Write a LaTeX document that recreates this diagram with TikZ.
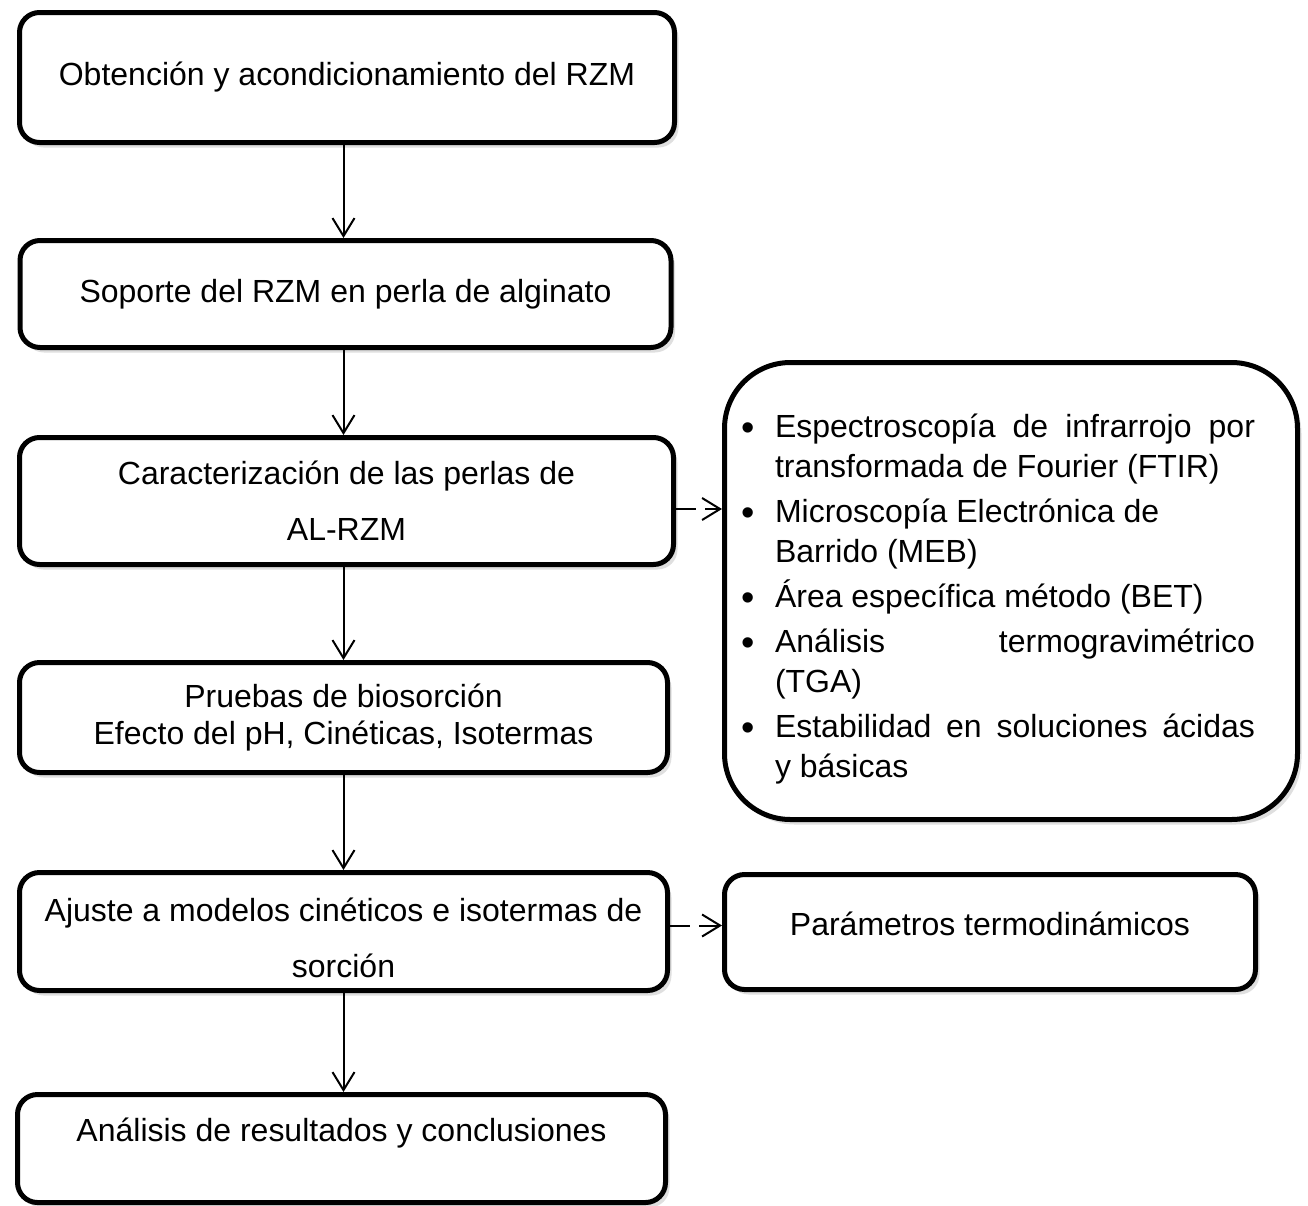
\documentclass[tikz,border=0pt]{standalone}
\usepackage{fontspec}
\usepackage{enumitem}
\setmainfont{Liberation Sans}
\usetikzlibrary{arrows.meta,shadows}

\begin{document}
\begin{tikzpicture}[x=0.5pt,y=-0.5pt]

		\tikzstyle{process} = [rectangle, draw, line width=2.5pt, fill=white, align=center, rounded corners=10pt, inner sep=2pt, font=\fontsize{16pt}{18.4pt}\selectfont, drop shadow={opacity=0.25, shadow xshift=2pt, shadow yshift=-2.5pt}]
		
		\tikzstyle{links} = [-{Straight Barb[length=9pt,width=11pt]}, line width=1pt]
		
		\tikzstyle{dashlinks} = [links, dash pattern=on 10pt off 4.5pt]
		
		\useasboundingbox (0,0) rectangle (1308,1206);
		
		\node[process, minimum width=327.5pt, minimum height=65pt] at (347, 77.5) (obtencion) {Obtención y acondicionamiento del RZM};
		\node[process, minimum width=325.5pt, minimum height=53.5pt] at (345.5, 294) (soporte) {Soporte del RZM en perla de alginato};
		\node[process, minimum width=327pt, minimum height=63.5pt] at (346.5, 501) (caracterizacion) {Caracterización de las perlas de\\[9.6pt]AL-RZM};
		\node[process, minimum width=324pt, minimum height=55pt] at (343.5, 717.5) (pruebas) {Pruebas de biosorción\\Efecto del pH, Cinéticas, Isotermas};
		\node[process, minimum width=324pt, minimum height=59pt] at (343.5, 931.5) (ajuste) {\rule{0pt}{18pt}Ajuste a modelos cinéticos e isotermas de\\[9.6pt]sorción};
		\node[process, minimum width=324pt, minimum height=54pt] at (341.5, 1148.5) (analisis) {Análisis de resultados y conclusiones\\[0pt]\mbox{}};
		
		\node[process, rounded corners=33pt, minimum width=286.5pt, minimum height=228.5pt, text width=257.5pt, align=justify, font=\fontsize{16pt}{20pt}\selectfont] at (1011, 591) (tecnicas) {%
			\begin{itemize}[label={\raisebox{-1.2pt}{\fontsize{19pt}{18pt}\selectfont\textbullet}}, leftmargin=10.75pt, rightmargin=6.75pt, labelsep=10pt, topsep=0pt, partopsep=0pt, parsep=0pt, itemsep=2.5pt]
				\item Espectroscopía de infrarrojo por\linebreak transformada de Fourier (FTIR)
				\item Microscopía Electrónica de\\Barrido (MEB)
				\item Área específica método (BET)
				\item Análisis termogravimétrico\linebreak (TGA)
				\item Estabilidad en soluciones ácidas\linebreak y básicas
			\end{itemize}};
		
		\node[process, minimum width=265.5pt, minimum height=57.5pt] at (990, 932) (termodinamicos) {Parámetros termodinámicos\\[-10pt]\mbox{}};
		
		\draw[links] (obtencion.south -| pruebas) -- (soporte.north -| pruebas);
		\draw[links] (soporte.south -| pruebas) -- (caracterizacion.north -| pruebas);
		\draw[links] (caracterizacion.south -| pruebas) -- (pruebas.north);
		\draw[links] (pruebas.south) -- (ajuste.north);
		\draw[links] (ajuste.south -| pruebas) -- (analisis.north -| pruebas);
		
	%	\draw[dashlinks] (caracterizacion.east) -- (tecnicas.west);
		\draw[dashlinks] ([yshift=-4pt]caracterizacion.east) -- ([yshift=-4pt]caracterizacion.east -| tecnicas.west);
		\draw[dashlinks] ([yshift=3pt]ajuste.east) -- ([yshift=3pt]ajuste.east -| termodinamicos.west);
	\end{tikzpicture}
\end{document}
